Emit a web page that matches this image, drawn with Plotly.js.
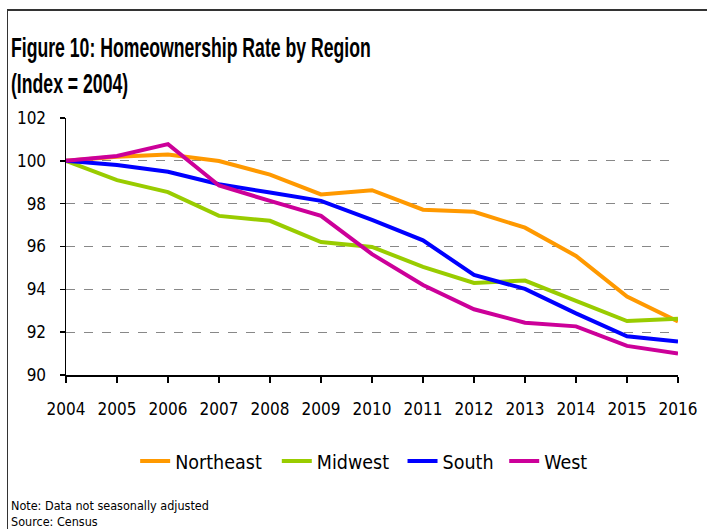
<!DOCTYPE html>
<html>
<head>
<meta charset="utf-8">
<script src="https://cdn.plot.ly/plotly-3.0.1.min.js"></script>
<style>
html,body{margin:0;padding:0;background:#fff;}
#frame{position:absolute;left:7px;top:9px;width:720px;height:540px;border-left:1px solid #333;border-top:2px solid #333;}
#chart{position:absolute;left:0;top:0;width:707px;height:529px;}
#chart svg text{font-stretch:condensed !important;}
</style>
</head>
<body>
<div id="frame"></div>
<div id="chart"></div>
<script>
const years = ['2004','2005','2006','2007','2008','2009','2010','2011','2012','2013','2014','2015','2016'];
const northeast = [100, 100.19, 100.3, 99.99, 99.36, 98.43, 98.63, 97.72, 97.62, 96.88, 95.56, 93.66, 92.5];
const midwest   = [100, 99.1, 98.54, 97.43, 97.2, 96.21, 95.98, 95.05, 94.3, 94.41, 93.46, 92.52, 92.63];
const south     = [100, 99.81, 99.49, 98.91, 98.52, 98.13, 97.24, 96.29, 94.67, 94.02, 92.88, 91.81, 91.56];
const west      = [100, 100.23, 100.78, 98.85, 98.13, 97.43, 95.64, 94.2, 93.07, 92.44, 92.27, 91.36, 91.0];
const seriesNames = ['Northeast','Midwest','South','West'];
const seriesColors = ['#FF9900','#99CC00','#0000FF','#CC0099'];
const yTicks = [90, 92, 94, 96, 98, 100, 102];

const font = '"DejaVu Sans", "Liberation Sans", Arial, sans-serif';
const titleFont = '"Liberation Sans", Arial, sans-serif';
const data = [northeast, midwest, south, west].map((v, i) => ({
  x: years.map(Number), y: v, type: 'scatter', mode: 'lines', name: seriesNames[i],
  line: {color: seriesColors[i], width: 4}
}));

const layout = {
  width: 707, height: 529,
  margin: {l: 66, r: 29, t: 118, b: 154},
  paper_bgcolor: 'rgba(0,0,0,0)', plot_bgcolor: 'rgba(0,0,0,0)',
  font: {family: font, size: 16, color: '#000'},
  xaxis: {range: [2004, 2016], tickvals: years.map(Number), ticktext: years, showgrid: false, zeroline: false,
          showline: true, linecolor: '#000', linewidth: 1.5, ticks: 'outside', ticklen: 6, tickcolor: '#000', tickwidth: 1.5,
          ticklabelstandoff: 12, tickfont: {family: font, size: 17}, fixedrange: true},
  yaxis: {range: [90, 102], tickvals: yTicks, showgrid: true, gridcolor: '#888', griddash: 'dash', gridwidth: 1, zeroline: false,
          showline: true, linecolor: '#000', linewidth: 1.5, ticks: 'outside', ticklen: 5, tickcolor: '#000', tickwidth: 1.5,
          ticklabelstandoff: 10, tickfont: {family: font, size: 17}, fixedrange: true},
  showlegend: true,
  legend: {orientation: 'h', x: 0.113, xanchor: 'left', y: -0.26, yanchor: 'top', font: {family: font, size: 19.5},
           itemwidth: 30, tracegroupgap: 0, bgcolor: 'rgba(0,0,0,0)'},
  annotations: [
    {text: '<b>Figure 10: Homeownership Rate by Region<br>(Index = 2004)</b>', xref: 'paper', yref: 'paper',
     x: -0.093, y: 1 + 88/257, xanchor: 'left', yanchor: 'top', align: 'left', showarrow: false,
     font: {family: titleFont, size: 28, color: '#000'}},
    {text: 'Note: Data not seasonally adjusted<br>Source: Census', xref: 'paper', yref: 'paper', x: -0.093, y: -0.472,
     xanchor: 'left', yanchor: 'top', align: 'left', showarrow: false, font: {family: font, size: 12.5, color: '#000'}}
  ]
};
Plotly.newPlot('chart', data, layout, {displayModeBar: false, staticPlot: true}).then(() => {
  // narrow the bold title horizontally to mimic the condensed face of the original
  const t = document.querySelector('#chart g.annotation[data-index="0"] text');
  if (t) {
    const bb = t.getBBox();
    const s = 360 / bb.width;
    const prev = t.getAttribute('transform') || '';
    t.setAttribute('transform', prev + ' translate(' + bb.x + ',0) scale(' + s + ',1) translate(' + (-bb.x) + ',0)');
  }
});
</script>
</body>
</html>
